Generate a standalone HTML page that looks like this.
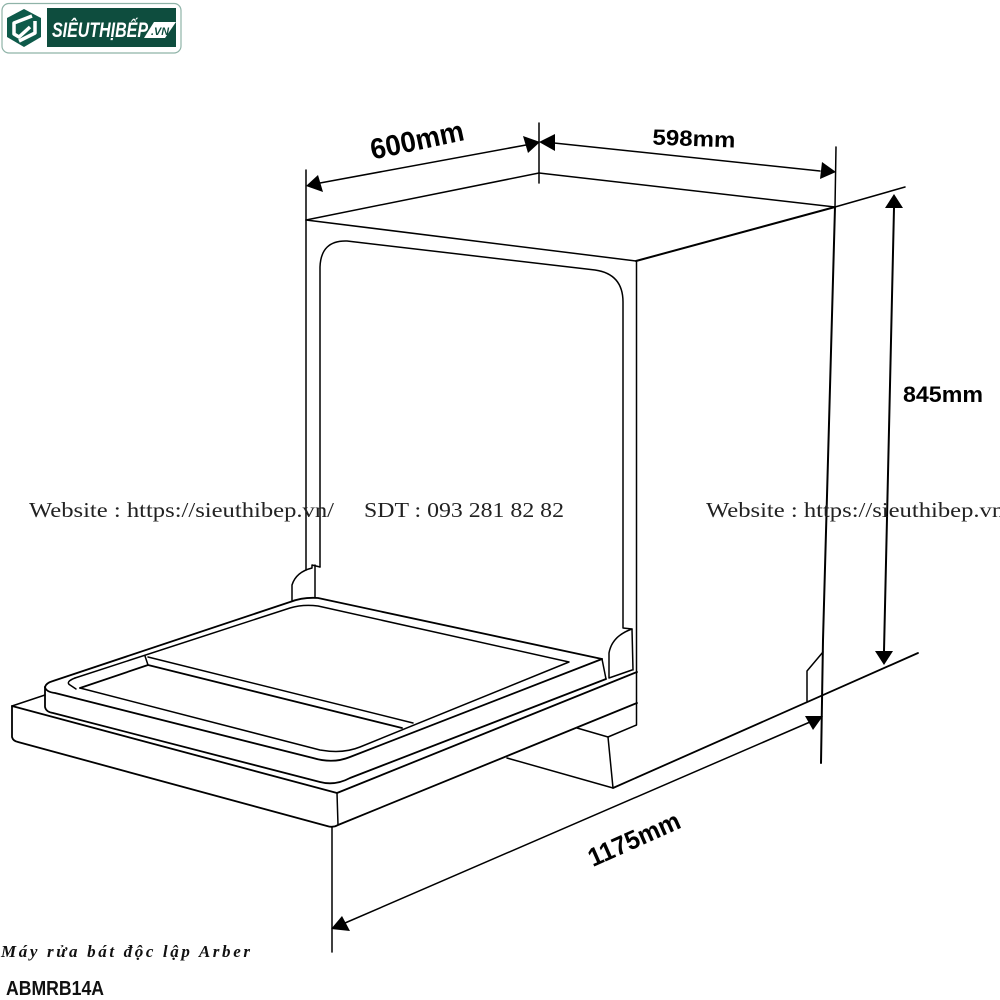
<!DOCTYPE html>
<html><head><meta charset="utf-8"><style>
html,body{margin:0;padding:0;background:#fff}
svg{display:block}
text{font-family:"Liberation Sans","Noto Sans CJK SC",sans-serif}
.s{font-family:"Liberation Serif","DejaVu Serif",serif}
</style></head><body>
<svg width="1000" height="1000" viewBox="0 0 1000 1000" xmlns="http://www.w3.org/2000/svg">
<rect width="1000" height="1000" fill="#fff"/>
<!-- logo -->
<rect x="2" y="3.5" width="179" height="49.5" rx="7" fill="#fff" stroke="#8fb3a8" stroke-width="1.2"/>
<rect x="47" y="8" width="129" height="39" fill="#0e4d3e"/>
<path d="M24 9 L41 18 V37 L24 47 L7 37 V18Z" fill="#0e5a4a"/>
<g fill="none" stroke="#fff" stroke-width="3.5" stroke-linejoin="round">
<path d="M32 16 L14 23 V34 L19 37 L30 27"/>
<path d="M35 21 V33 L19 41"/>
</g>
<text x="52" y="37" font-size="21" font-style="italic" font-weight="bold" fill="#fff" textLength="96" lengthAdjust="spacingAndGlyphs">SIÊUTHỊBẾP</text>
<path d="M154 22 H176 L165 38 H144Z" fill="#fff"/>
<text x="151" y="35" font-size="11" font-style="italic" font-weight="bold" fill="#0e4d3e" textLength="18" lengthAdjust="spacingAndGlyphs">.VN</text>
<!-- cabinet -->
<g fill="none" stroke="#000" stroke-width="1.5" stroke-linejoin="round" stroke-linecap="round">
<path d="M306 170 V570"/>
<path d="M539 123 V183"/>
<path d="M306 220 L539 173 L835 207"/>
<path d="M306 220 L636 261"/>
<path d="M636.5 261 V725 L608 737 L577 728"/>
<path d="M320 567 V267 Q321 240 347 241 L595 270 Q623 274 623 302 V628 L632 629 Q612 636 609 653 V678 L632 670"/>
<path d="M632 629 L633 670"/>
<path d="M636 261 L835 207" stroke-width="2"/>
<path d="M835 207 L905 187"/>
<path d="M836 147 L835 207"/>
<path d="M835 207 L823 640 L821 763" stroke-width="2"/>
<path d="M823 652 L807 671 V701"/>
<path d="M608 737 L613 788 L507 758"/>
<path d="M613 788 L918 653" stroke-width="1.8"/>
<!-- left hinge -->
<path d="M292 600 V585 Q296 572 312 568 V565 L320 567"/>
<path d="M315 565 V597"/>
<!-- tray top -->
<path d="M45 687 Q46 683 53 681 L290 602 Q303 597 318 598 L602 659" stroke-width="1.8"/>
<path d="M602 659 L606 679"/>
<path d="M45 687 Q46 692 55 693 L313 758 Q333 764 350 757 L602 659" stroke-width="1.8"/>
<path d="M75 678 L290 608 Q303 604 318 606 L569 662 L360 747 Q343 754 320 750 L80 688"/>
<path d="M75 678 Q65 682 70 685 L76 689" />
<path d="M80 688 L148 665 L402 728" stroke-width="1.8"/>
<path d="M148 657 L413 723"/>
<path d="M145 656 L148 665"/>
<!-- tray front -->
<path d="M45 687 V707 Q46 712 53 713 L320 782 Q335 786 350 778 L606 679" stroke-width="1.8"/>
<path d="M12 706 L45 695" stroke-width="1.5"/>
<path d="M12 706 L337 793 L637 672" stroke-width="1.8"/>
<path d="M12 706 V737 Q13 741 18 742 L327 826 Q333 828 338 825 L637 703" stroke-width="1.8"/>
<path d="M337 793 L338 825"/>
<!-- dim lines -->
<path d="M320 183 L526 145"/>
<path d="M554 143 L820 171"/>
<path d="M894 208 L884 651" stroke-width="2"/>
<path d="M345 923 L810 722"/>
<path d="M332 827 V952"/>
</g>
<!-- arrowheads -->
<g fill="#000">
<path d="M306 186 L318 175 L323 192Z"/>
<path d="M540 142 L523 136 L528 153Z"/>
<path d="M539 142 L555 134 L555 151Z"/>
<path d="M836 172 L822 162 L820 179Z"/>
<path d="M894 194 L885 208 L903 208Z"/>
<path d="M884 665 L875 651 L893 651Z"/>
<path d="M823 716 L805 716 L813 730Z"/>
<path d="M331 929 L342 916 L350 931Z"/>
</g>
<!-- labels -->
<g font-weight="bold" fill="#000" text-anchor="middle">
<text x="417" y="150" font-size="29" transform="rotate(-12 417 140)" textLength="95" lengthAdjust="spacingAndGlyphs">600mm</text>
<text x="694" y="146" font-size="22" transform="rotate(2 694 138)" textLength="83" lengthAdjust="spacingAndGlyphs">598mm</text>
<text x="943" y="402" font-size="22" textLength="80" lengthAdjust="spacingAndGlyphs">845mm</text>
<text x="634" y="848" font-size="26" transform="rotate(-24 634 839)" textLength="98" lengthAdjust="spacingAndGlyphs">1175mm</text>
</g>
<!-- watermark -->
<g fill="#222">
<text class="s" x="29" y="517" font-size="21" textLength="305" lengthAdjust="spacingAndGlyphs">Website : https://sieuthibep.vn/</text>
<text class="s" x="364" y="517" font-size="21" textLength="200" lengthAdjust="spacingAndGlyphs">SDT : 093 281 82 82</text>
<text class="s" x="706" y="517" font-size="21" textLength="305" lengthAdjust="spacingAndGlyphs">Website : https://sieuthibep.vn/</text>
</g>
<!-- footer -->
<text class="s" x="1" y="957" font-size="17" font-weight="bold" font-style="italic" fill="#111" textLength="249" lengthAdjust="spacing">Máy rửa bát độc lập Arber</text>
<text x="6" y="995" font-size="20" font-weight="bold" fill="#111" textLength="98" lengthAdjust="spacingAndGlyphs">ABMRB14A</text>
</svg>
</body></html>
